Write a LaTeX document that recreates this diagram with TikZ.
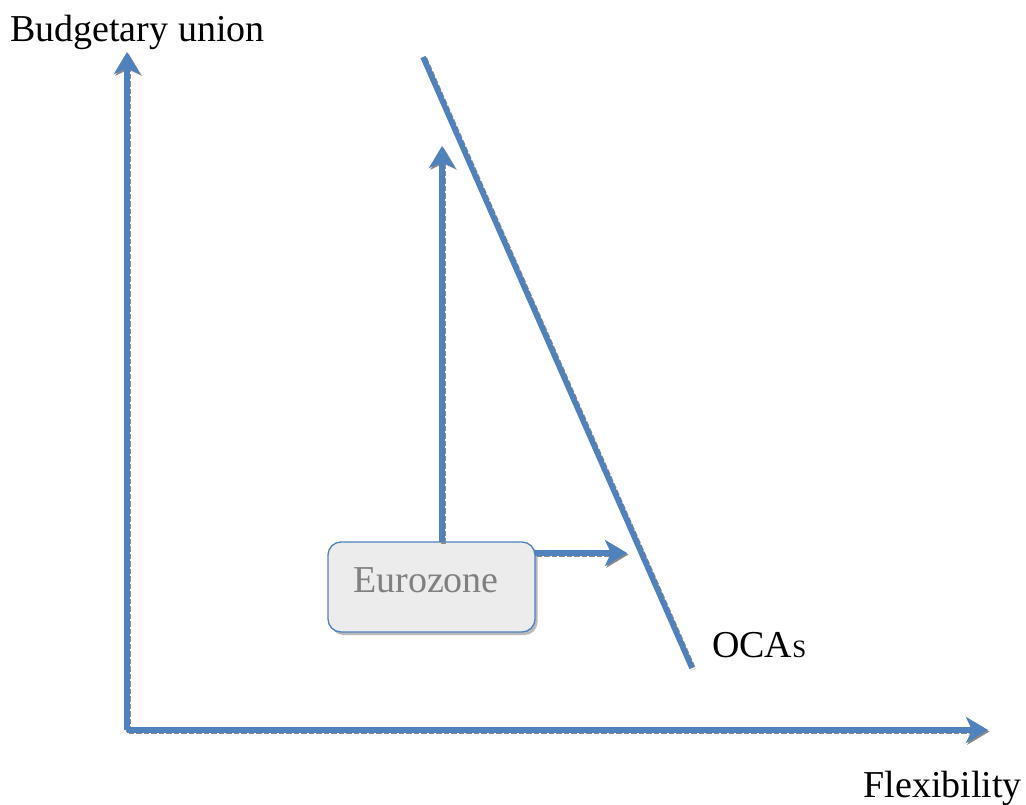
\documentclass[tikz,border=0pt]{standalone}
\usepackage{fontspec}
\setmainfont{Liberation Serif}
\usetikzlibrary{arrows.meta,calc}
\definecolor{ablue}{HTML}{4F81BD}
\definecolor{shad}{HTML}{8A8A8A}
\definecolor{boxfill}{HTML}{ECECEC}
\definecolor{eztext}{HTML}{808080}
\tikzset{
  axisline/.style={draw=ablue,line width=5.5pt,
    preaction={draw=shad,line width=5.5pt,dotted,transform canvas={shift={(1.5pt,-1.5pt)}}}},
  arrowtip/.style={-{Stealth[length=22pt,width=26pt,inset=6pt]}},
  lbl/.style={font=\fontsize{38}{42}\selectfont,inner sep=0pt},
  ezbox/.style={draw=ablue,line width=1.3pt,fill=boxfill,rounded corners=13pt,
    minimum width=207pt,minimum height=90pt,inner sep=0pt}
}
\begin{document}
\begin{tikzpicture}[x=1pt,y=-1pt]
\useasboundingbox (0,0) rectangle (1026,804);
% axes
\coordinate (o) at (127,730);
\coordinate (ytop) at (127,52);
\coordinate (xend) at (988,730);
\draw[axisline,arrowtip] (o) -- (ytop);
\draw[axisline,arrowtip] (o) -- (xend);
% OCA line
\coordinate (ocatop) at (423,57);
\coordinate (ocabot) at (692,668);
\draw[axisline] (ocatop) -- (ocabot);
% Eurozone box
\node[fill=shad!60,rounded corners=13pt,minimum width=207pt,minimum height=90pt,inner sep=0pt] (boxshadow) at (434,590) {};
\node[ezbox] (box) at (431.5,587) {};
\node[lbl,text=eztext,anchor=base] (ez) at (426,592) {Eurozone};
% arrows from box
\coordinate (vstart) at (442,542);
\coordinate (vtip) at (442,146);
\coordinate (hstart) at (535,553);
\coordinate (htip) at (627,553);
\draw[axisline,arrowtip] (vstart) -- (vtip);
\draw[axisline,arrowtip] (hstart) -- (htip);
% labels
\node[lbl,anchor=base west] (ylab) at (10,41) {Budgetary union};
\node[lbl,anchor=base east] (xlab) at (1022,797) {Flexibility};
\node[lbl,anchor=base west] (ocalab) at (712,657) {OCA{\fontsize{25}{25}\selectfont S}};
\end{tikzpicture}
\end{document}
